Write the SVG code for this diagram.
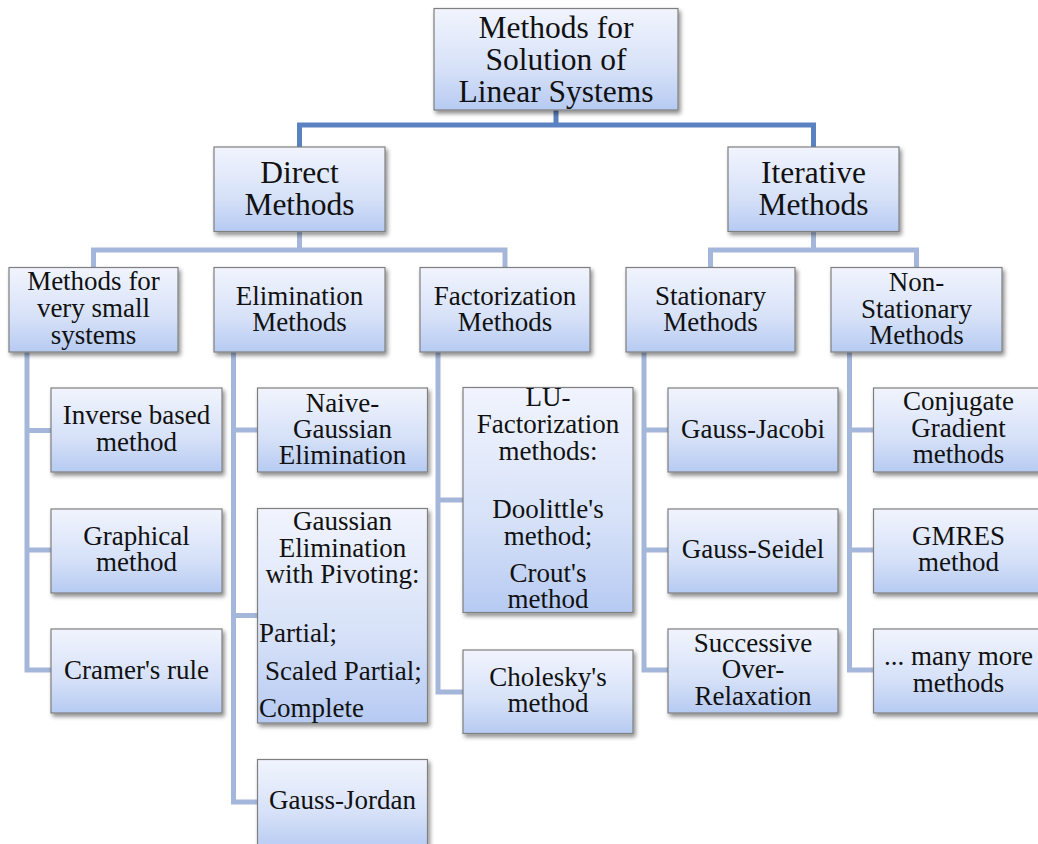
<svg xmlns="http://www.w3.org/2000/svg" width="1038" height="844" viewBox="0 0 1038 844">
<defs>
<linearGradient id="g" x1="0" y1="0" x2="0" y2="1">
<stop offset="0" stop-color="#f1f4fd"/>
<stop offset="0.6" stop-color="#d6e1f8"/>
<stop offset="1" stop-color="#b6caf2"/>
</linearGradient>
<filter id="sh" x="-10%" y="-10%" width="125%" height="130%">
<feDropShadow dx="2" dy="3" stdDeviation="2" flood-color="#000" flood-opacity="0.45"/>
</filter>
<style>
.box{fill:url(#g);stroke:#7f7f7f;stroke-width:1.2;filter:url(#sh)}
text{font-family:"Liberation Serif","Times New Roman",serif;fill:#111;text-anchor:middle}
.t0{font-size:31.5px}
.t2{font-size:27px}
.l{text-anchor:start}
.c1{fill:none;stroke:#5a81c0;stroke-width:5}
.c2{fill:none;stroke:#a4b7da;stroke-width:5}
</style>
</defs>
<rect width="1038" height="844" fill="#fff"/>
<g id="connectors">
<path class="c1" d="M556 110V125M299.5 147V125H813.5V147"/>
<path class="c2" d="M299.5 231V250M93.5 268V250H505V268M813.5 231V250M710.5 268V250H916.5V268"/>
<path class="c2" d="M27 352V670H51M27 430.5H51M27 550H51"/>
<path class="c2" d="M233.5 352V802H258M233.5 430H258M233.5 615.5H258"/>
<path class="c2" d="M438 352V692H463M438 500H463"/>
<path class="c2" d="M644 352V670H668M644 430H668M644 550H668"/>
<path class="c2" d="M849.5 352V670H874M849.5 430H874M849.5 550H874"/>
</g>
<g id="root"><rect class="box" x="434" y="8.5" width="244" height="101.5"/>
<text class="t0" x="556" y="38">Methods for</text><text class="t0" x="556" y="70">Solution of</text><text class="t0" x="556" y="102">Linear Systems</text></g>
<g id="direct"><rect class="box" x="214" y="147" width="171" height="84.5"/>
<text class="t0" x="299.5" y="183">Direct</text><text class="t0" x="299.5" y="215">Methods</text></g>
<g id="iterative"><rect class="box" x="728" y="147" width="171" height="84.5"/>
<text class="t0" x="813.5" y="183">Iterative</text><text class="t0" x="813.5" y="215">Methods</text></g>
<g id="small"><rect class="box" x="9" y="267.5" width="169" height="84.5"/>
<text class="t2" x="93.5" y="290">Methods for</text><text class="t2" x="93.5" y="317">very small</text><text class="t2" x="93.5" y="344">systems</text></g>
<g id="elimination"><rect class="box" x="214" y="267.5" width="171" height="84.5"/>
<text class="t2" x="299.5" y="305">Elimination</text><text class="t2" x="299.5" y="331">Methods</text></g>
<g id="factorization"><rect class="box" x="420" y="267.5" width="170" height="84.5"/>
<text class="t2" x="505" y="305">Factorization</text><text class="t2" x="505" y="331">Methods</text></g>
<g id="stationary"><rect class="box" x="626" y="267.5" width="169" height="84.5"/>
<text class="t2" x="710.5" y="305">Stationary</text><text class="t2" x="710.5" y="331">Methods</text></g>
<g id="nonstationary"><rect class="box" x="831" y="267.5" width="171" height="84.5"/>
<text class="t2" x="916.5" y="291">Non-</text><text class="t2" x="916.5" y="318">Stationary</text><text class="t2" x="916.5" y="344">Methods</text></g>
<g id="inverse"><rect class="box" x="51" y="388" width="171" height="84"/>
<text class="t2" x="136.5" y="424">Inverse based</text><text class="t2" x="136.5" y="451">method</text></g>
<g id="graphical"><rect class="box" x="51" y="509" width="171" height="84"/>
<text class="t2" x="136.5" y="545">Graphical</text><text class="t2" x="136.5" y="571">method</text></g>
<g id="cramer"><rect class="box" x="51" y="629" width="171" height="84"/>
<text class="t2" x="136.5" y="679">Cramer's rule</text></g>
<g id="naive"><rect class="box" x="257.5" y="388" width="170" height="84"/>
<text class="t2" x="342.5" y="412">Naive-</text><text class="t2" x="342.5" y="438">Gaussian</text><text class="t2" x="342.5" y="464">Elimination</text></g>
<g id="pivoting"><rect class="box" x="257.5" y="508.5" width="170" height="214.5"/>
<text class="t2" x="342.5" y="530">Gaussian</text><text class="t2" x="342.5" y="557">Elimination</text><text class="t2" x="342.5" y="583">with Pivoting:</text>
<text class="t2 l" x="259" y="642">Partial;</text><text class="t2 l" x="265" y="680">Scaled Partial;</text><text class="t2 l" x="259" y="717">Complete</text></g>
<g id="gaussjordan"><rect class="box" x="257.5" y="759.5" width="170" height="90"/>
<text class="t2" x="342.5" y="809">Gauss-Jordan</text></g>
<g id="lu"><rect class="box" x="463" y="387.5" width="170" height="225"/>
<text class="t2" x="548" y="406">LU-</text><text class="t2" x="548" y="433">Factorization</text><text class="t2" x="548" y="460">methods:</text>
<text class="t2" x="548" y="518">Doolittle's</text><text class="t2" x="548" y="545">method;</text><text class="t2" x="548" y="582">Crout's</text><text class="t2" x="548" y="608">method</text></g>
<g id="cholesky"><rect class="box" x="463" y="650" width="170" height="83.5"/>
<text class="t2" x="548" y="686">Cholesky's</text><text class="t2" x="548" y="712">method</text></g>
<g id="jacobi"><rect class="box" x="668" y="388" width="170" height="84"/>
<text class="t2" x="753" y="438">Gauss-Jacobi</text></g>
<g id="seidel"><rect class="box" x="668" y="509" width="170" height="84"/>
<text class="t2" x="753" y="558">Gauss-Seidel</text></g>
<g id="sor"><rect class="box" x="668" y="629" width="170" height="84"/>
<text class="t2" x="753" y="652">Successive</text><text class="t2" x="753" y="678">Over-</text><text class="t2" x="753" y="705">Relaxation</text></g>
<g id="cg"><rect class="box" x="873.5" y="388" width="170" height="84"/>
<text class="t2" x="958.5" y="410">Conjugate</text><text class="t2" x="958.5" y="437">Gradient</text><text class="t2" x="958.5" y="463">methods</text></g>
<g id="gmres"><rect class="box" x="873.5" y="509" width="170" height="84"/>
<text class="t2" x="958.5" y="545">GMRES</text><text class="t2" x="958.5" y="571">method</text></g>
<g id="more"><rect class="box" x="873.5" y="629" width="170" height="84"/>
<text class="t2" x="958.5" y="665">... many more</text><text class="t2" x="958.5" y="692">methods</text></g>
</svg>
